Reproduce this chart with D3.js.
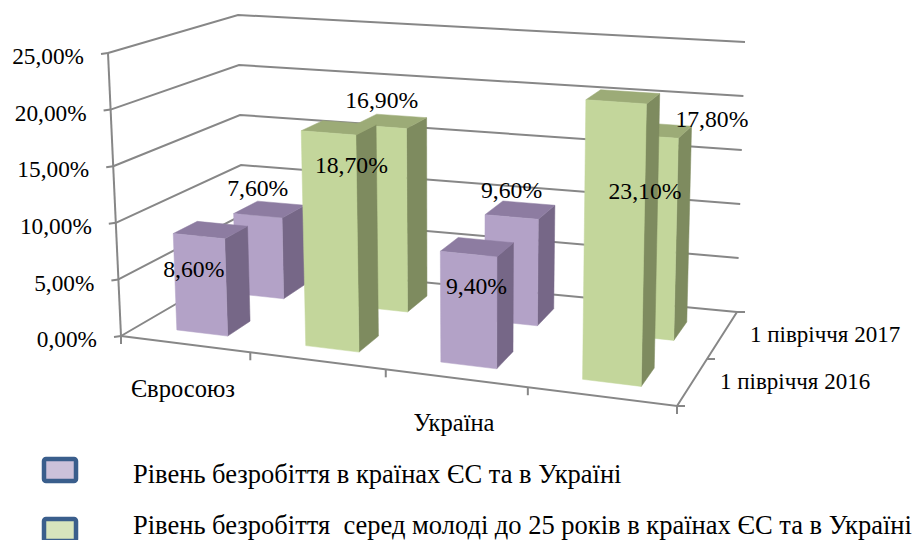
<!DOCTYPE html>
<html><head><meta charset="utf-8">
<script src="https://cdn.jsdelivr.net/npm/d3@7"></script>
<style>html,body{margin:0;padding:0;background:#fff;}</style>
</head><body><svg id="c" width="921" height="540"></svg>
<script>
// ---- data ----
const regions = ["Євросоюз", "Україна"];
const indicators = ["Рівень безробіття в країнах ЄС та в Україні",
                    "Рівень безробіття  серед молоді до 25 років в країнах ЄС та в Україні"];
const periods = ["1 півріччя 2016", "1 півріччя 2017"];
const unemployment2016 = [8.6, 9.4];   // EU, Ukraine
const unemployment2017 = [7.6, 9.6];
const youth2016 = [18.7, 23.1];
const youth2017 = [16.9, 17.8];
const yTicks = [0, 5, 10, 15, 20, 25];

// ---- layout (3D frame corners on screen) ----
const FONT = "'Liberation Serif', 'Times New Roman', Tinos, 'DejaVu Serif', 'Noto Serif', serif";
const box = {flb:[121,336], frb:[677,406], blb:[243,265], brb:[737,312],
             flt:[108,53],  frt:[684,91],  blt:[238,15],  brt:[745,42]};
const persp = 1.1;
const faceColors = [
  {front:"#B3A2C7", side:"#766787", top:"#8D7CA1"},
  {front:"#C3D69B", side:"#7E8B5F", top:"#9CAB77"}];
const legendFill = ["#CCC1DA", "#D7E4BD"];
// label offsets from projected bar top (layout only)
const labelShift = {
  "0-0":[-5,33], "0-1":[23,32], "0-2":[8,32], "0-3":[29,89],
  "1-0":[0,-28], "1-1":[1,-27], "1-2":[0,-27], "1-3":[62,-18]};

const svg = d3.select("#c").style("font-family", FONT);
const slots = [];
regions.forEach((r,ri)=>indicators.forEach((ind,ii)=>slots.push({key:ri+"-"+ii, region:r, ri, ii})));
const xBand = d3.scaleBand().domain(slots.map(s=>s.key)).range([0,1]).paddingInner(0.6).paddingOuter(0.3);
const zBand = d3.scaleBand().domain(periods).range([0,1]).paddingInner(0.6).paddingOuter(0.3);
const yScale = d3.scaleLinear().domain([0,25]).range([0,1]);

function warp(u){ return u/(u + persp*(1-u)); }
function lerp(a,b,t){ return [a[0]+(b[0]-a[0])*t, a[1]+(b[1]-a[1])*t]; }
function proj(u,v,w){
  const s = warp(u);
  const bf = lerp(box.flb, box.frb, s), bb = lerp(box.blb, box.brb, s);
  const tf = lerp(box.flt, box.frt, s), tb = lerp(box.blt, box.brt, s);
  return lerp(lerp(bf,bb,v), lerp(tf,tb,v), w);
}
const line = d3.line();
const gridColor = "#878787";
const fmt = v => d3.format(".2f")(v).replace(".", ",") + "%";
function txt(sel){ return sel.attr("font-family", FONT).attr("fill","#000"); }

// gridlines
const g = svg.append("g");
yTicks.forEach(t=>{
  const w = yScale(t);
  g.append("path").attr("d", line([proj(0,0,w), proj(0,1,w), proj(1,1,w)]))
    .attr("fill","none").attr("stroke",gridColor).attr("stroke-width",2);
  const p = proj(0,0,w);
  g.append("path").attr("d", line([p,[p[0]-7,p[1]+1]])).attr("stroke",gridColor).attr("stroke-width",2);
  txt(g.append("text")).attr("x", p[0]-24).attr("y", p[1]+3).attr("dy","0.35em")
    .attr("text-anchor","end").attr("font-size",23.3).text(fmt(t));
});
// axes
g.append("path").attr("d", line([proj(0,0,0), proj(0,0,1)])).attr("stroke",gridColor).attr("stroke-width",2);
g.append("path").attr("d", line([proj(0,0,0), proj(1,0,0), proj(1,1,0)])).attr("fill","none").attr("stroke",gridColor).attr("stroke-width",2);
[0,0.25,0.5,0.75,1].forEach(u=>{
  const p = proj(u,0,0);
  g.append("path").attr("d", line([p,[p[0],p[1]+8]])).attr("stroke",gridColor).attr("stroke-width",2);
});
[0,0.5,1].forEach(v=>{
  const p = proj(1,v,0);
  g.append("path").attr("d", line([p,[p[0]+8,p[1]]])).attr("stroke",gridColor).attr("stroke-width",2);
});
// category labels
regions.forEach((r,ri)=>{
  const key = ri+"-0";
  const u = xBand(key)+xBand.bandwidth()/2;
  const p = proj(u,0,0);
  txt(g.append("text")).attr("x",p[0]-2).attr("y",p[1]+44).attr("dy","0.35em")
    .attr("text-anchor","middle").attr("font-size",24.5).text(r);
});
// depth labels
periods.forEach(pd=>{
  const v = zBand(pd)+zBand.bandwidth()/2;
  const p = proj(1,v,0);
  txt(g.append("text")).attr("x",p[0]+28).attr("y",p[1]-2).attr("dy","0.35em")
    .attr("font-size",23).text(pd);
});

// bars
const series = [[unemployment2016, youth2016],[unemployment2017, youth2017]];
const bars = [];
periods.forEach((pd,pi)=>{
  slots.forEach((s,si)=>{
    bars.push({pi, si, period:pd, slot:s, value: series[pi][s.ii][s.ri]});
  });
});
const drawOrder = bars.slice().sort((a,b)=> (b.pi-a.pi) || (a.si-b.si));
const bg = svg.append("g");
const poly = pts => "M" + pts.map(p=>p.join(",")).join("L") + "Z";
drawOrder.forEach(b=>{
  const u0 = xBand(b.slot.key), u1 = u0 + xBand.bandwidth();
  const v0 = zBand(b.period), v1 = v0 + zBand.bandwidth();
  const w = yScale(b.value);
  const c = faceColors[b.slot.ii];
  bg.append("path").attr("d", poly([proj(u1,v0,0),proj(u1,v1,0),proj(u1,v1,w),proj(u1,v0,w)])).attr("fill",c.side).attr("stroke",c.side).attr("stroke-width",0.5);
  bg.append("path").attr("d", poly([proj(u0,v0,w),proj(u1,v0,w),proj(u1,v1,w),proj(u0,v1,w)])).attr("fill",c.top).attr("stroke",c.top).attr("stroke-width",0.5);
  bg.append("path").attr("d", poly([proj(u0,v0,0),proj(u1,v0,0),proj(u1,v0,w),proj(u0,v0,w)])).attr("fill",c.front).attr("stroke",c.front).attr("stroke-width",0.5);
});
// data labels
const lg = svg.append("g");
bars.forEach(b=>{
  const u = xBand(b.slot.key)+xBand.bandwidth()/2;
  const v0 = zBand(b.period);
  const p = proj(u, v0, yScale(b.value));
  const sh = labelShift[b.pi+"-"+b.si];
  txt(lg.append("text")).attr("x",p[0]+sh[0]).attr("y",p[1]+sh[1]).attr("dy","0.35em")
    .attr("text-anchor","middle").attr("font-size",23.7).text(fmt(b.value));
});
// legend
indicators.forEach((ind,i)=>{
  const y = 470 + i*60;
  svg.append("rect").attr("x",44).attr("y",y-11).attr("width",32).attr("height",22).attr("rx",2)
    .attr("fill",legendFill[i]).attr("stroke","#3A5E8C").attr("stroke-width",4.5);
  txt(svg.append("text")).attr("x",133).attr("y",483 + i*51).attr("font-size",26.5)
    .style("white-space","pre").text(ind);
});
</script></body></html>
